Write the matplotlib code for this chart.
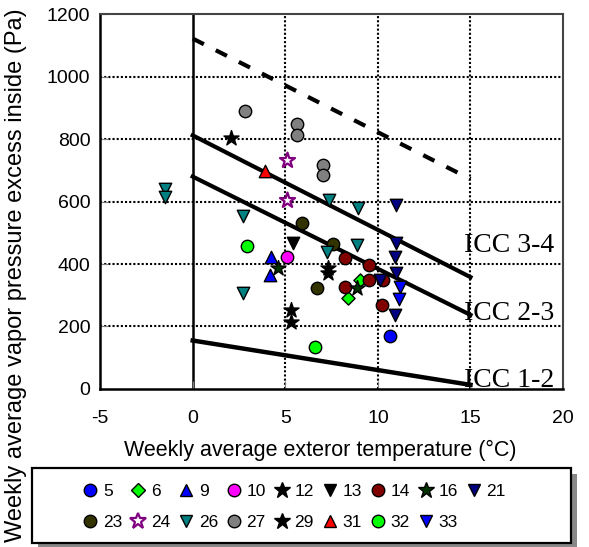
import matplotlib.pyplot as plt
from matplotlib.lines import Line2D
from matplotlib.patches import Rectangle

plt.rcParams['font.family'] = ['Liberation Sans', 'DejaVu Sans']
plt.rcParams['axes.unicode_minus'] = False

# series: weekly average exterior temperature (x) and vapour pressure excess (y)
s5_x, s5_y = [10.67], [170]
s6_x, s6_y = [8.41, 9.04], [290, 349]
s9_x, s9_y = [4.22, 4.2], [423, 365]
s10_x, s10_y = [5.1], [422]
s12_x, s12_y = [2.08, 7.33, 7.33], [804, 386, 370]
s13_x, s13_y = [5.43], [468]
s14_x, s14_y = [8.23, 9.54, 9.54, 8.23, 10.3, 10.2], [418, 397, 349, 327, 349, 270]
s16_x, s16_y = [4.6, 8.86], [387, 322]
s21_x, s21_y = [11.0, 11.0, 10.93, 11.0, 10.1, 10.93], [589, 466, 423, 370, 349, 237]
s23_x, s23_y = [5.9, 7.6, 6.7], [530, 464, 324]
s24_x, s24_y = [5.08, 5.08], [733, 605]
s26_x, s26_y = [-1.49, -1.49, 2.7, 2.7, 7.38, 8.9, 7.24, 8.86], [639, 615, 553, 306, 605, 578, 439, 461]
s27_x, s27_y = [2.83, 5.62, 5.62, 7.02, 7.02], [890, 850, 813, 717, 685]
s29_x, s29_y = [5.3, 5.3], [253, 215]
s31_x, s31_y = [3.91], [698]
s32_x, s32_y = [2.92, 6.61], [458, 133]
s33_x, s33_y = [11.2, 11.16], [327, 287]

# ICC limit lines
icc_x = [0, 15]
icc12_y = [155, 13]
icc23_y = [680, 237]
icc34_y = [812, 358]
upper_y = [1122, 672]

x_ticks = [-5, 0, 5, 10, 15, 20]
y_ticks = [0, 200, 400, 600, 800, 1000, 1200]

# (label, x, y, marker, face, edge)
series = [
    ("5", s5_x, s5_y, "o", "#0000ff", "black"),
    ("6", s6_x, s6_y, "D", "#00ff00", "black"),
    ("9", s9_x, s9_y, "^", "#0000ff", "black"),
    ("10", s10_x, s10_y, "o", "#ff00ff", "black"),
    ("12", s12_x, s12_y, "*", "black", "black"),
    ("13", s13_x, s13_y, "v", "black", "black"),
    ("14", s14_x, s14_y, "o", "#800000", "black"),
    ("16", s16_x, s16_y, "*", "#003300", "black"),
    ("21", s21_x, s21_y, "v", "#000080", "black"),
    ("23", s23_x, s23_y, "o", "#333300", "black"),
    ("24", s24_x, s24_y, "*", "white", "#800080"),
    ("26", s26_x, s26_y, "v", "#008080", "black"),
    ("27", s27_x, s27_y, "o", "#808080", "black"),
    ("29", s29_x, s29_y, "*", "black", "black"),
    ("31", s31_x, s31_y, "^", "#ff0000", "black"),
    ("32", s32_x, s32_y, "o", "#00ff00", "black"),
    ("33", s33_x, s33_y, "v", "#0000ff", "black"),
]

fig = plt.figure(figsize=(5.89, 5.47), dpi=100)
ax = fig.add_axes([0.170, 0.289, 0.786, 0.685])

ax.set_xlim(-5, 20)
ax.set_ylim(0, 1200)
ax.set_xticks(x_ticks)
ax.set_yticks(y_ticks)
ax.tick_params(direction="in", length=6, color="grey", labelsize=14)
ax.tick_params(axis="x", pad=15)
ax.tick_params(axis="y", pad=7)

for v in [5, 10, 15]:
    ax.axvline(v, color="black", lw=1.5, ls=(0, (1, 1)), zorder=1)
for v in [200, 400, 600, 800, 1000]:
    ax.axhline(v, color="black", lw=1.5, ls=(0, (1, 1)), zorder=1)
ax.axvline(0, color="black", lw=1.8, zorder=1)

for sp in ["left", "bottom"]:
    ax.spines[sp].set_linewidth(1.8)
    ax.spines[sp].set_color("black")
for sp in ["top", "right"]:
    ax.spines[sp].set_linewidth(1.5)
    ax.spines[sp].set_color("#444444")

ax.plot(icc_x, icc12_y, color="black", lw=3.2, zorder=2)
ax.plot(icc_x, icc23_y, color="black", lw=3, zorder=2)
ax.plot(icc_x, icc34_y, color="black", lw=3, zorder=2)
ax.plot(icc_x, upper_y, color="black", lw=3, dashes=(3.0, 3.2), zorder=2)

ax.text(17.1, 438, "ICC 3-4", family="Liberation Serif", fontsize=20, va="baseline", ha="center", zorder=4)
ax.text(17.1, 221, "ICC 2-3", family="Liberation Serif", fontsize=20, va="baseline", ha="center", zorder=4)
ax.text(17.1, 7, "ICC 1-2", family="Liberation Serif", fontsize=20, va="baseline", ha="center", zorder=4)

handles = {}
for label, xs, ys, mk, fc, ec in series:
    size = 80 if mk != "*" else 130
    if mk == "D":
        size = 45
    lw = 1.6 if label == "24" else 1
    ax.scatter(xs, ys, marker=mk, s=size, facecolor=fc, edgecolor=ec, linewidths=lw, zorder=3)
    msize = 9 if mk != "*" else 12
    if mk == "D":
        msize = 7
    handles[label] = Line2D([], [], ls="none", marker=mk, markersize=msize,
                            markerfacecolor=fc, markeredgecolor=ec, markeredgewidth=lw)

ax.set_xlabel("Weekly average exteror temperature (\u00b0C)", fontsize=15.5, va="top")
ax.xaxis.set_label_coords(0.475, -0.135)
fig.text(0.027, 0.497, "Weekly average vapor pressure excess inside (Pa)", rotation=90,
         fontsize=17, ha="center", va="center")

# legend box with shadow drawn by hand
fig.patches.append(Rectangle((38 / 589, 1 - 549 / 547), 539 / 589, 75 / 547,
                             transform=fig.transFigure, facecolor="#888888",
                             edgecolor="none", zorder=0))
fig.patches.append(Rectangle((32 / 589, 1 - 543 / 547), 539 / 589, 75 / 547,
                             transform=fig.transFigure, facecolor="white",
                             edgecolor="black", lw=1.6, zorder=1))

row1 = ["5", "6", "9", "10", "12", "13", "14", "16", "21"]
row2 = ["23", "24", "26", "27", "29", "31", "32", "33"]
order = []
for i in range(9):
    order.append(row1[i])
    if i < len(row2):
        order.append(row2[i])

leg = fig.legend([handles[k] for k in order], order, ncol=9, loc="center left",
                 bbox_to_anchor=(82 / 589, 1 - 507 / 547),
                 fontsize=12.5, frameon=False,
                 handlelength=0.9, handletextpad=0.3, columnspacing=0.45,
                 borderaxespad=0, labelspacing=0.95, borderpad=0)

fig.savefig("out.png", dpi=100)
